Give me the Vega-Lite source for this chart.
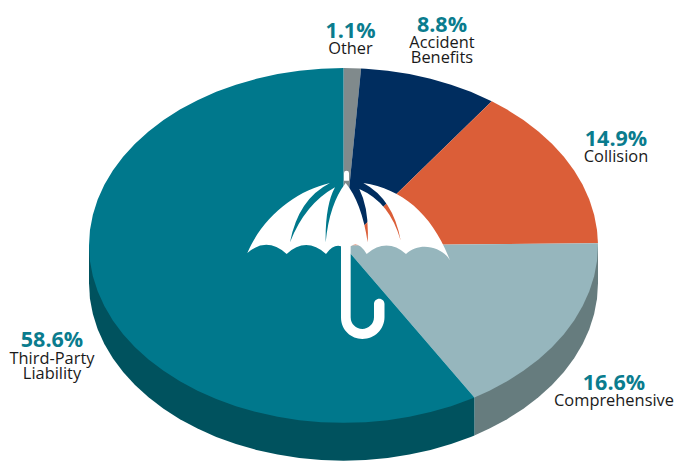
{
  "$schema": "https://vega.github.io/schema/vega-lite/v6.json",
  "width": 675,
  "height": 461,
  "padding": 0,
  "autosize": {"type": "fit", "contains": "padding"},
  "background": "white",
  "config": {"view": {"stroke": null}},
  "resolve": {"scale": {"fill": "independent"}},
  "datasets": {
    "rim": [
      {"slice":"Comprehensive","step":0,"x":100,"y":0},{"slice":"Comprehensive","step":1,"x":51.44,"y":-60.03},{"slice":"Comprehensive","step":2,"x":51.44,"y":-74.97},{"slice":"Comprehensive","step":3,"x":57.36,"y":-72.28},{"slice":"Comprehensive","step":4,"x":64.28,"y":-68.56},{"slice":"Comprehensive","step":5,"x":70.71,"y":-64.44},{"slice":"Comprehensive","step":6,"x":76.6,"y":-59.94},{"slice":"Comprehensive","step":7,"x":81.92,"y":-55.09},{"slice":"Comprehensive","step":8,"x":86.6,"y":-49.94},{"slice":"Comprehensive","step":9,"x":90.63,"y":-44.52},{"slice":"Comprehensive","step":10,"x":93.97,"y":-38.88},{"slice":"Comprehensive","step":11,"x":96.59,"y":-33.06},{"slice":"Comprehensive","step":12,"x":98.48,"y":-27.1},{"slice":"Comprehensive","step":13,"x":99.62,"y":-21.04},{"slice":"Comprehensive","step":14,"x":100,"y":-14.94},
      {"slice":"Third-Party Liability","step":0,"x":-100,"y":0},{"slice":"Third-Party Liability","step":1,"x":51.44,"y":-60.03},{"slice":"Third-Party Liability","step":2,"x":51.44,"y":-74.97},{"slice":"Third-Party Liability","step":3,"x":50,"y":-75.56},{"slice":"Third-Party Liability","step":4,"x":42.26,"y":-78.38},{"slice":"Third-Party Liability","step":5,"x":34.2,"y":-80.72},{"slice":"Third-Party Liability","step":6,"x":25.88,"y":-82.55},{"slice":"Third-Party Liability","step":7,"x":17.36,"y":-83.88},{"slice":"Third-Party Liability","step":8,"x":8.72,"y":-84.67},{"slice":"Third-Party Liability","step":9,"x":0,"y":-84.94},{"slice":"Third-Party Liability","step":10,"x":-8.72,"y":-84.67},{"slice":"Third-Party Liability","step":11,"x":-17.36,"y":-83.88},{"slice":"Third-Party Liability","step":12,"x":-25.88,"y":-82.55},{"slice":"Third-Party Liability","step":13,"x":-34.2,"y":-80.72},{"slice":"Third-Party Liability","step":14,"x":-42.26,"y":-78.38},{"slice":"Third-Party Liability","step":15,"x":-50,"y":-75.56},{"slice":"Third-Party Liability","step":16,"x":-57.36,"y":-72.28},{"slice":"Third-Party Liability","step":17,"x":-64.28,"y":-68.56},{"slice":"Third-Party Liability","step":18,"x":-70.71,"y":-64.44},{"slice":"Third-Party Liability","step":19,"x":-76.6,"y":-59.94},{"slice":"Third-Party Liability","step":20,"x":-81.92,"y":-55.09},{"slice":"Third-Party Liability","step":21,"x":-86.6,"y":-49.94},{"slice":"Third-Party Liability","step":22,"x":-90.63,"y":-44.52},{"slice":"Third-Party Liability","step":23,"x":-93.97,"y":-38.88},{"slice":"Third-Party Liability","step":24,"x":-96.59,"y":-33.06},{"slice":"Third-Party Liability","step":25,"x":-98.48,"y":-27.1},{"slice":"Third-Party Liability","step":26,"x":-99.62,"y":-21.04},{"slice":"Third-Party Liability","step":27,"x":-100,"y":-14.94}
    ],
    "top": [
      {"slice":"Other","step":0,"x":0,"y":0},{"slice":"Other","step":1,"x":0,"y":70},{"slice":"Other","step":2,"x":6.91,"y":69.83},
      {"slice":"Accident Benefits","step":0,"x":0,"y":0},{"slice":"Accident Benefits","step":1,"x":6.91,"y":69.83},{"slice":"Accident Benefits","step":2,"x":8.72,"y":69.73},{"slice":"Accident Benefits","step":3,"x":17.36,"y":68.94},{"slice":"Accident Benefits","step":4,"x":25.88,"y":67.61},{"slice":"Accident Benefits","step":5,"x":34.2,"y":65.78},{"slice":"Accident Benefits","step":6,"x":42.26,"y":63.44},{"slice":"Accident Benefits","step":7,"x":50,"y":60.62},{"slice":"Accident Benefits","step":8,"x":57.36,"y":57.34},{"slice":"Accident Benefits","step":9,"x":58.27,"y":56.9},
      {"slice":"Collision","step":0,"x":0,"y":0},{"slice":"Collision","step":1,"x":58.27,"y":56.9},{"slice":"Collision","step":2,"x":64.28,"y":53.62},{"slice":"Collision","step":3,"x":70.71,"y":49.5},{"slice":"Collision","step":4,"x":76.6,"y":45},{"slice":"Collision","step":5,"x":81.92,"y":40.15},{"slice":"Collision","step":6,"x":86.6,"y":35},{"slice":"Collision","step":7,"x":90.63,"y":29.58},{"slice":"Collision","step":8,"x":93.97,"y":23.94},{"slice":"Collision","step":9,"x":96.59,"y":18.12},{"slice":"Collision","step":10,"x":98.48,"y":12.16},{"slice":"Collision","step":11,"x":99.62,"y":6.1},{"slice":"Collision","step":12,"x":99.99,"y":0.88},
      {"slice":"Comprehensive","step":0,"x":0,"y":0},{"slice":"Comprehensive","step":1,"x":99.99,"y":0.88},{"slice":"Comprehensive","step":2,"x":100,"y":0},{"slice":"Comprehensive","step":3,"x":99.62,"y":-6.1},{"slice":"Comprehensive","step":4,"x":98.48,"y":-12.16},{"slice":"Comprehensive","step":5,"x":96.59,"y":-18.12},{"slice":"Comprehensive","step":6,"x":93.97,"y":-23.94},{"slice":"Comprehensive","step":7,"x":90.63,"y":-29.58},{"slice":"Comprehensive","step":8,"x":86.6,"y":-35},{"slice":"Comprehensive","step":9,"x":81.92,"y":-40.15},{"slice":"Comprehensive","step":10,"x":76.6,"y":-45},{"slice":"Comprehensive","step":11,"x":70.71,"y":-49.5},{"slice":"Comprehensive","step":12,"x":64.28,"y":-53.62},{"slice":"Comprehensive","step":13,"x":57.36,"y":-57.34},{"slice":"Comprehensive","step":14,"x":51.44,"y":-60.03},
      {"slice":"Third-Party Liability","step":0,"x":0,"y":0},{"slice":"Third-Party Liability","step":1,"x":51.44,"y":-60.03},{"slice":"Third-Party Liability","step":2,"x":50,"y":-60.62},{"slice":"Third-Party Liability","step":3,"x":42.26,"y":-63.44},{"slice":"Third-Party Liability","step":4,"x":34.2,"y":-65.78},{"slice":"Third-Party Liability","step":5,"x":25.88,"y":-67.61},{"slice":"Third-Party Liability","step":6,"x":17.36,"y":-68.94},{"slice":"Third-Party Liability","step":7,"x":8.72,"y":-69.73},{"slice":"Third-Party Liability","step":8,"x":0,"y":-70},{"slice":"Third-Party Liability","step":9,"x":-8.72,"y":-69.73},{"slice":"Third-Party Liability","step":10,"x":-17.36,"y":-68.94},{"slice":"Third-Party Liability","step":11,"x":-25.88,"y":-67.61},{"slice":"Third-Party Liability","step":12,"x":-34.2,"y":-65.78},{"slice":"Third-Party Liability","step":13,"x":-42.26,"y":-63.44},{"slice":"Third-Party Liability","step":14,"x":-50,"y":-60.62},{"slice":"Third-Party Liability","step":15,"x":-57.36,"y":-57.34},{"slice":"Third-Party Liability","step":16,"x":-64.28,"y":-53.62},{"slice":"Third-Party Liability","step":17,"x":-70.71,"y":-49.5},{"slice":"Third-Party Liability","step":18,"x":-76.6,"y":-45},{"slice":"Third-Party Liability","step":19,"x":-81.92,"y":-40.15},{"slice":"Third-Party Liability","step":20,"x":-86.6,"y":-35},{"slice":"Third-Party Liability","step":21,"x":-90.63,"y":-29.58},{"slice":"Third-Party Liability","step":22,"x":-93.97,"y":-23.94},{"slice":"Third-Party Liability","step":23,"x":-96.59,"y":-18.12},{"slice":"Third-Party Liability","step":24,"x":-98.48,"y":-12.16},{"slice":"Third-Party Liability","step":25,"x":-99.62,"y":-6.1},{"slice":"Third-Party Liability","step":26,"x":-100,"y":0},{"slice":"Third-Party Liability","step":27,"x":-99.62,"y":6.1},{"slice":"Third-Party Liability","step":28,"x":-98.48,"y":12.16},{"slice":"Third-Party Liability","step":29,"x":-96.59,"y":18.12},{"slice":"Third-Party Liability","step":30,"x":-93.97,"y":23.94},{"slice":"Third-Party Liability","step":31,"x":-90.63,"y":29.58},{"slice":"Third-Party Liability","step":32,"x":-86.6,"y":35},{"slice":"Third-Party Liability","step":33,"x":-81.92,"y":40.15},{"slice":"Third-Party Liability","step":34,"x":-76.6,"y":45},{"slice":"Third-Party Liability","step":35,"x":-70.71,"y":49.5},{"slice":"Third-Party Liability","step":36,"x":-64.28,"y":53.62},{"slice":"Third-Party Liability","step":37,"x":-57.36,"y":57.34},{"slice":"Third-Party Liability","step":38,"x":-50,"y":60.62},{"slice":"Third-Party Liability","step":39,"x":-42.26,"y":63.44},{"slice":"Third-Party Liability","step":40,"x":-34.2,"y":65.78},{"slice":"Third-Party Liability","step":41,"x":-25.88,"y":67.61},{"slice":"Third-Party Liability","step":42,"x":-17.36,"y":68.94},{"slice":"Third-Party Liability","step":43,"x":-8.72,"y":69.73},{"slice":"Third-Party Liability","step":44,"x":0,"y":70}
    ],
    "shares": [
      {"label":"1.1%","x":2.75,"y":84.3},
      {"label":"8.8%","x":38.7,"y":86.7},
      {"label":"14.9%","x":107.07,"y":41.5},
      {"label":"16.6%","x":106.29,"y":-54.8},
      {"label":"58.6%","x":-114.54,"y":-37.9}
    ],
    "names": [
      {"label":"Other","x":2.75,"y":77.6},
      {"label":"Accident","x":38.7,"y":80},
      {"label":"Benefits","x":38.7,"y":73.9},
      {"label":"Collision","x":107.07,"y":34.8},
      {"label":"Comprehensive","x":106.29,"y":-61.3},
      {"label":"Third-Party","x":-114.54,"y":-44.8},
      {"label":"Liability","x":-114.54,"y":-50.7}
    ]
  },
  "encoding": {
    "x": {"field": "x", "type": "quantitative", "axis": null, "scale": {"domain": [-134.97, 130.26], "nice": false, "zero": false}},
    "y": {"field": "y", "type": "quantitative", "axis": null, "scale": {"domain": [-84.28, 96.86], "nice": false, "zero": false}}
  },
  "layer": [
    {
      "data": {"name": "rim"},
      "mark": {"type": "line", "interpolate": "linear-closed", "strokeWidth": 0},
      "encoding": {
        "order": {"field": "step", "type": "quantitative"},
        "fill": {
          "field": "slice",
          "type": "nominal",
          "legend": null,
          "scale": {"domain": ["Comprehensive", "Third-Party Liability"], "range": ["#667C7E", "#00525E"]}
        }
      }
    },
    {
      "data": {"name": "top"},
      "mark": {"type": "line", "interpolate": "linear-closed", "strokeWidth": 0},
      "encoding": {
        "order": {"field": "step", "type": "quantitative"},
        "fill": {
          "field": "slice",
          "type": "nominal",
          "legend": null,
          "scale": {
            "domain": ["Other", "Accident Benefits", "Collision", "Comprehensive", "Third-Party Liability"],
            "range": ["#808A8C", "#002D5F", "#DB5E38", "#96B6BD", "#00788C"]
          }
        }
      }
    },
    {
      "data": {"values": [{"x": 0, "y": 0}]},
      "mark": {
        "type": "point",
        "filled": true,
        "fill": "white",
        "stroke": null,
        "opacity": 1,
        "size": 4,
        "shape": "M-96.17 7.5 C-80.17 -29.83 -46.83 -54.83 -13.5 -62.5 Q-45.17 -46.5 -53.5 -3.17 Q-38.5 -41.5 -8.5 -58.17 Q-18.5 -39.83 -17.83 -3.17 Q-14.17 -41.5 2.17 -62.5 Q18.17 -43.17 24.17 -3.17 Q25.83 -36.5 15.83 -56.5 Q46.5 -43.17 57.17 -4.83 Q49.83 -46.5 19.83 -62.5 C59.83 -56.5 89.83 -29.83 106.5 15.17 C99.83 1.83 76.5 -4.83 62.5 8.5 Q43.17 -8.17 23.17 8.5 Q14.83 -4.83 7.17 0.83 L7.17 71.83 C7.17 78.5 12.5 83.5 18.83 83.5 C24.83 83.5 30.5 78.5 30.5 71.83 L30.5 58.5 A5.25 5.25 0 0 1 41 58.5 L41 71.83 C41 83.5 31.5 93.5 18.83 93.5 C8.17 93.5 -2.5 85.17 -2.5 71.83 L-2.5 0.83 Q-10.17 -1.5 -17.5 8.5 Q-37.5 -9.17 -56.83 8.5 Q-76.83 -9.17 -96.17 7.5 Z M0.5 -72.5 Q0.5 -74.8 3 -74.8 Q5.5 -74.8 5.5 -72.5 L5.5 -64.8 L0.5 -64.8 Z"
      }
    },
    {
      "data": {"name": "shares"},
      "mark": {"type": "text", "font": "Open Sans", "fontWeight": 700, "fontSize": 21.5, "fill": "#0A7C8E", "align": "center", "baseline": "middle"},
      "encoding": {"text": {"field": "label", "type": "nominal"}}
    },
    {
      "data": {"name": "names"},
      "mark": {"type": "text", "font": "Open Sans", "fontSize": 16.4, "fill": "#1A1A1A", "align": "center", "baseline": "middle"},
      "encoding": {"text": {"field": "label", "type": "nominal"}}
    }
  ]
}
